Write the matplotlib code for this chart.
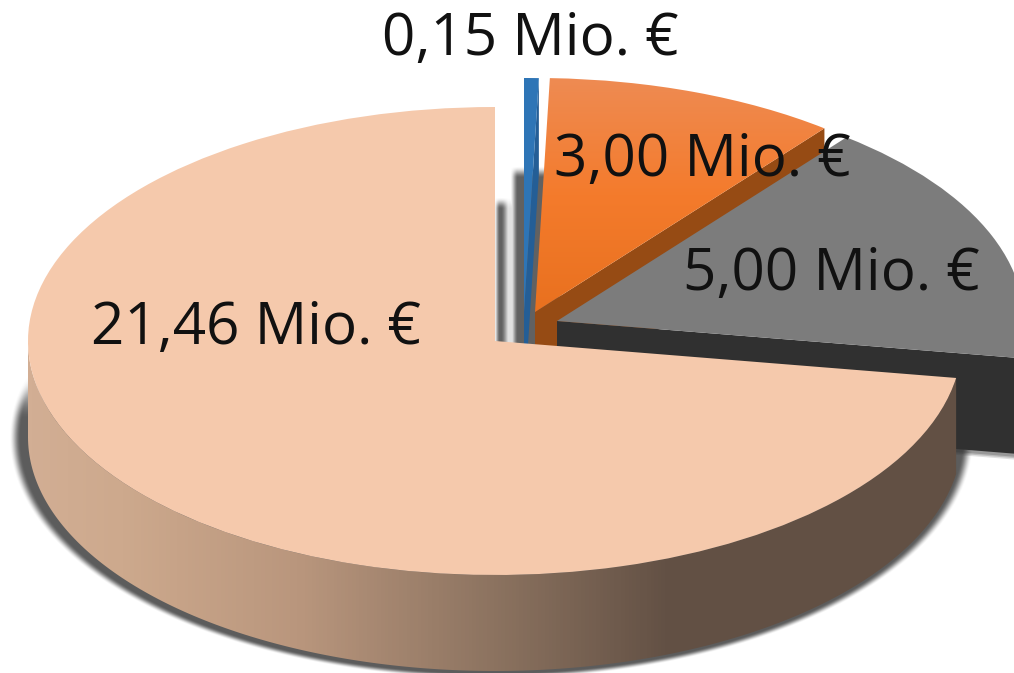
import matplotlib
matplotlib.use('Agg')
import matplotlib.pyplot as plt
import numpy as np
from matplotlib.colors import LinearSegmentedColormap
from matplotlib.patches import Polygon
from matplotlib.transforms import Affine2D

# values in Mio. EUR, clockwise from 12 o'clock
labels = ['0,15 Mio. €', '3,00 Mio. €', '5,00 Mio. €', '21,46 Mio. €']
values = [0.15, 3.00, 5.00, 21.46]

W, H = 1014, 673
rx, ry = 467, 234
depth = 96
centers = [(524, 312), (535, 312), (557, 321), (495, 341)]
label_pos = [(530, 40), (702, 161), (831, 275), (256, 329)]
fontsize = 42

plt.rcParams['font.family'] = ['Open Sans', 'DejaVu Sans']

fig = plt.figure(figsize=(W / 100, H / 100), dpi=100)
ax = fig.add_axes([0, 0, 1, 1])

wedges, _ = ax.pie(values, startangle=90, counterclock=False, radius=rx,
                   center=(0, 0), frame=False)
ax.set_aspect('auto')


def tf(c):
    return Affine2D().scale(1, -ry / rx).translate(c[0], c[1]) + ax.transData


def ell(c, ang):
    ang = np.radians(ang)
    return np.column_stack([c[0] + rx * np.cos(ang), c[1] - ry * np.sin(ang)])


def radial_wall(c, ang):
    tip = np.array(c, dtype=float)
    end = ell(c, np.array([ang]))[0]
    return np.array([tip, end, end + [0, depth], tip + [0, depth]])


def smooth(v, w):
    t = np.clip((v + w) / (2 * w), 0, 1)
    return t ** 2 * (3 - 2 * t)


def gradient(stops, extent, axis, zorder, clip):
    cmap = LinearSegmentedColormap.from_list('g', stops)
    g = np.linspace(0, 1, 256)
    g = g.reshape(1, -1) if axis == 'x' else g.reshape(-1, 1)
    im = ax.imshow(g, cmap=cmap, extent=extent, aspect='auto', origin='upper', zorder=zorder)
    im.set_clip_path(clip)


def soft_image(alpha, zorder, level=0.2):
    img = np.zeros(alpha.shape + (4,))
    img[..., :3] = level
    img[..., 3] = alpha
    ax.imshow(img, extent=(0, W, H, 0), aspect='auto', zorder=zorder, interpolation='bilinear')


xx, yy = np.meshgrid(np.arange(W) + 0.5, np.arange(H) + 0.5)

# blurred shadows in the gap behind the pulled-out slices
above = smooth(350 - yy, 2)
gap = smooth(xx - 514, 4) * smooth(560 - xx, 4) * smooth(yy - 172, 6) * above
gap2 = smooth(xx - 497, 3) * smooth(506 - xx, 5) * smooth(yy - 203, 6) * above
haze = smooth(yy - 203, 6) * above * smooth(xx - 497, 3) * smooth(520 - xx, 3) * 0.15
soft_image(np.maximum(np.maximum(gap, gap2) * 0.78, haze), 1)

# shadow below the big slice
c_big = centers[3]
r = np.sqrt(((xx - 491.5) / 476.5) ** 2 + ((yy - (c_big[1] + depth + 1)) / 238) ** 2)
soft_image(smooth(1 - r, 0.012) * smooth(yy - 395, 25) * 0.8, 2)

# blue slice
w = wedges[0]
poly = Polygon(radial_wall(centers[0], w.theta1), closed=True, fc='#245E96', ec='none', zorder=3)
ax.add_patch(poly)
w.set(transform=tf(centers[0]), fc='#2E75B6', ec='none', zorder=4)

# orange slice
w = wedges[1]
wall = Polygon(radial_wall(centers[1], w.theta1), closed=True, fc='#964B14', ec='none', zorder=5)
ax.add_patch(wall)
w.set(transform=tf(centers[1]), fc='none', ec='none', zorder=6)
gradient(['#EE8C55', '#F47B2C', '#E8701E'], (535, 830, 320, 70), 'y', 6, w)

# gray slice
w = wedges[2]
wall = Polygon(radial_wall(centers[2], w.theta1), closed=True, fc='#303030', ec='none', zorder=7)
ax.add_patch(wall)
bottom = radial_wall(centers[2], w.theta1)[[3, 2]]
for lw, a in zip([7, 5, 3], [0.15, 0.2, 0.25]):
    ax.plot(bottom[:, 0], bottom[:, 1] + 1, color='#303030', lw=lw, alpha=a, zorder=6.5,
            solid_capstyle='butt')
w.set(transform=tf(centers[2]), fc='#7C7C7C', ec='none', zorder=8)

# big slice, outer wall first
w = wedges[3]
angs = np.linspace(180, 360 + w.theta2, 200)
top_arc = ell(c_big, angs)
side = Polygon(np.vstack([top_arc, top_arc[::-1] + [0, depth]]), closed=True, fc='none', ec='none', zorder=9)
ax.add_patch(side)
wall_stops = [(0, '#D2AE94'), (0.1, '#CDA98D'), (0.29, '#B9967D'), (0.5, '#8C7360'),
              (0.69, '#625044'), (1, '#625044')]
gradient(wall_stops, (28, 960, 673, 300), 'x', 9, side)
w.set(transform=tf(c_big), fc='#F5C9AC', ec='none', zorder=10)

for lab, pos in zip(labels, label_pos):
    ax.text(pos[0], pos[1], lab, fontsize=fontsize, color='#111111', ha='center', va='center', zorder=20)

ax.set_xlim(0, W)
ax.set_ylim(H, 0)
ax.axis('off')
fig.savefig('out.png', dpi=100)
